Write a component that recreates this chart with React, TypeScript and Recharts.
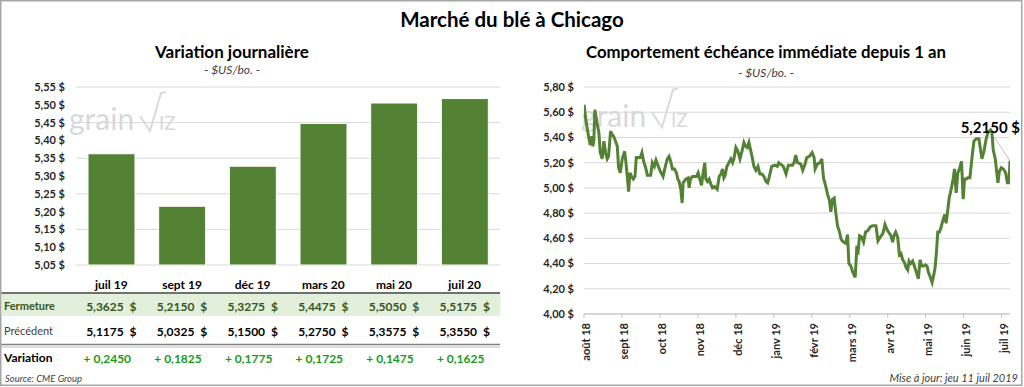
// Marché du blé à Chicago — daily change bars + 12-month nearby line.

import { BarChart, Bar, XAxis, YAxis, CartesianGrid, LineChart, Line, LabelList } from 'recharts';

const FONT = 'Lato, "Open Sans", sans-serif';
const GREEN = '#548235';
const GRID = '#d9d9d9';
const INK = '#262626';

// Left panel: contracts, closes, previous closes, change
const contracts = ['juil 19', 'sept 19', 'déc 19', 'mars 20', 'mai 20', 'juil 20'];
const closes = [5.3625, 5.215, 5.3275, 5.4475, 5.505, 5.5175];
const previous = [5.1175, 5.0325, 5.15, 5.275, 5.3575, 5.355];
const changes = [0.245, 0.1825, 0.1775, 0.1725, 0.1475, 0.1625];
const barTicks = [5.05, 5.1, 5.15, 5.2, 5.25, 5.3, 5.35, 5.4, 5.45, 5.5, 5.55];

// Right panel: nearby contract, [months since 1 Aug 2018, close]
const monthLabels = ['août 18', 'sept 18', 'oct 18', 'nov 18', 'déc 18', 'janv 19', 'févr 19', 'mars 19', 'avr 19', 'mai 19', 'juin 19', 'juil 19'];
const priceTicks = [4.0, 4.2, 4.4, 4.6, 4.8, 5.0, 5.2, 5.4, 5.6, 5.8];
const nearby: [number, number][] = [
  [0, 5.66], [0.057, 5.52], [0.119, 5.41], [0.163, 5.34], [0.207, 5.41], [0.233, 5.33], [0.26, 5.38], [0.286, 5.62], [0.339, 5.52], [0.392, 5.44], [0.427, 5.28], [0.48, 5.23], [0.524, 5.37], [0.568, 5.28], [0.612, 5.23], [0.647, 5.25], [0.7, 5.45], [0.744, 5.42], [0.779, 5.41], [0.832, 5.37], [0.876, 5.33], [0.911, 5.16], [0.955, 5.12],
  [1.008, 5.23], [1.07, 5.29], [1.105, 5.2], [1.14, 5.09], [1.175, 4.97], [1.21, 5.12], [1.254, 5.09], [1.299, 5.07], [1.342, 5.09], [1.378, 5.24], [1.43, 5.24], [1.483, 5.24], [1.527, 5.28], [1.571, 5.21], [1.624, 5.16], [1.668, 5.1], [1.756, 5.1], [1.8, 5.2], [1.853, 5.17], [1.897, 5.22], [1.959, 5.17],
  [2.011, 5.13], [2.082, 5.09], [2.143, 5.17], [2.196, 5.23], [2.24, 5.25], [2.284, 5.21], [2.328, 5.15], [2.381, 5.15], [2.434, 5.12], [2.47, 5.07], [2.505, 5.05], [2.549, 4.99], [2.585, 4.88], [2.61, 5.04], [2.68, 5.07], [2.742, 5.08], [2.768, 5.0], [2.804, 5.07], [2.856, 5.09], [2.909, 5.09], [2.962, 5.09],
  [3.006, 5.12], [3.05, 5.07], [3.094, 5.02], [3.138, 5.12], [3.182, 5.2], [3.208, 5.07], [3.252, 5.05], [3.296, 5.07], [3.341, 5.03], [3.385, 5.0], [3.446, 5.01], [3.508, 4.99], [3.561, 5.09], [3.605, 5.11], [3.649, 5.15], [3.684, 5.08], [3.719, 5.1], [3.763, 5.17], [3.816, 5.2], [3.869, 5.23], [3.913, 5.2], [3.948, 5.23],
  [4.0, 5.32], [4.054, 5.29], [4.107, 5.23], [4.16, 5.29], [4.212, 5.36], [4.256, 5.33], [4.3, 5.32], [4.344, 5.36], [4.388, 5.3], [4.432, 5.24], [4.476, 5.17], [4.529, 5.14], [4.582, 5.17], [4.634, 5.11], [4.687, 5.11], [4.74, 5.09], [4.793, 5.05], [4.837, 5.04], [4.881, 5.09], [4.943, 5.17],
  [5.031, 5.18], [5.092, 5.17], [5.128, 5.2], [5.251, 5.17], [5.321, 5.11], [5.383, 5.18], [5.489, 5.18], [5.533, 5.2], [5.577, 5.26], [5.621, 5.2], [5.709, 5.19], [5.762, 5.14], [5.823, 5.19], [5.867, 5.24], [5.937, 5.25],
  [6.008, 5.28], [6.061, 5.24], [6.087, 5.15], [6.149, 5.19], [6.219, 5.2], [6.263, 5.23], [6.307, 5.08], [6.369, 5.01], [6.413, 4.95], [6.466, 4.9], [6.501, 4.81], [6.545, 4.91], [6.589, 4.92], [6.633, 4.8], [6.677, 4.7], [6.73, 4.65], [6.774, 4.59], [6.835, 4.57], [6.897, 4.56], [6.941, 4.63], [6.976, 4.4],
  [7.029, 4.38], [7.081, 4.33], [7.143, 4.29], [7.187, 4.54], [7.213, 4.47], [7.258, 4.62], [7.311, 4.61], [7.363, 4.57], [7.416, 4.65], [7.469, 4.66], [7.539, 4.69], [7.601, 4.7], [7.689, 4.7], [7.742, 4.58], [7.804, 4.61], [7.874, 4.64], [7.927, 4.71], [7.98, 4.67],
  [8.042, 4.64], [8.085, 4.62], [8.13, 4.57], [8.165, 4.62], [8.209, 4.65], [8.262, 4.61], [8.306, 4.47], [8.349, 4.48], [8.393, 4.43], [8.437, 4.41], [8.481, 4.37], [8.525, 4.35], [8.561, 4.42], [8.605, 4.4], [8.657, 4.42], [8.701, 4.38], [8.754, 4.33], [8.807, 4.28], [8.851, 4.43], [8.895, 4.38], [8.948, 4.38], [8.992, 4.39],
  [9.036, 4.38], [9.071, 4.33], [9.124, 4.29], [9.168, 4.25], [9.212, 4.31], [9.248, 4.37], [9.283, 4.49], [9.318, 4.65], [9.362, 4.65], [9.406, 4.69], [9.459, 4.75], [9.503, 4.79], [9.538, 4.72], [9.583, 4.83], [9.618, 4.92], [9.671, 4.99], [9.723, 5.07], [9.758, 5.15], [9.802, 4.96], [9.846, 5.12], [9.89, 5.15], [9.943, 5.21], [9.987, 4.91],
  [10.022, 5.07], [10.066, 5.07], [10.11, 5.08], [10.163, 5.08], [10.216, 5.23], [10.269, 5.37], [10.331, 5.39], [10.401, 5.39], [10.445, 5.3], [10.48, 5.23], [10.533, 5.29], [10.586, 5.38], [10.639, 5.44], [10.709, 5.46], [10.744, 5.44], [10.779, 5.3], [10.832, 5.23], [10.868, 5.13], [10.903, 5.04], [10.938, 5.13], [10.991, 5.16],
  [11.044, 5.15], [11.106, 5.12], [11.15, 5.04], [11.194, 5.04], [11.22, 5.215],
];

const fmtAxis = (v: number) => `${v.toFixed(2).replace('.', ',')} $`;
const fmt4 = (v: number) => v.toFixed(4).replace('.', ',');

// left plot geometry (table columns line up with the bar categories)
const L_PLOT_LEFT = 76;
const L_PLOT_RIGHT = 500;
const colX = (i: number) => L_PLOT_LEFT + ((L_PLOT_RIGHT - L_PLOT_LEFT) / contracts.length) * (i + 0.5);

function ContractTick({ x, y, payload }: any) {
  return (
    <text x={x} y={y + 16} textAnchor="middle" fontSize={12} fontWeight={700} fill="#000">
      {payload.value}
    </text>
  );
}

function MonthTick({ x, y, payload }: any) {
  return (
    <text
      x={x}
      y={y + 2}
      transform={`rotate(-90 ${x} ${y + 2})`}
      textAnchor="end"
      dy="0.55em"
      fontSize={11}
      fontWeight={700}
      fill={INK}
    >
      {monthLabels[payload.value]}
    </text>
  );
}

function LastLabel({ x, y, value, index }: any) {
  if (index !== nearby.length - 1) return null;
  return (
    <g>
      <line x1={x - 16} y1={y - 24} x2={x} y2={y} stroke="#bfbfbf" strokeWidth={1} />
      <text x={x + 10} y={y - 28} textAnchor="end" fontSize={15} fontWeight={700} fill="#000">
        {`${fmt4(value)} $`}
      </text>
    </g>
  );
}

function Watermark({ dx, dy }: { dx: number; dy: number }) {
  return (
    <g transform={`translate(${dx} ${dy})`} fill="#d9d9d9">
      <text x={69} y={130} fontSize={30}>grain</text>
      <path d="M140,116 L150,131 L161,93 L166,92" fill="none" stroke="#d9d9d9" strokeWidth={2} />
      <text x={159} y={130} fontSize={19}>IZ</text>
    </g>
  );
}

export default function App() {
  const barData = contracts.map((c, i) => ({ c, v: closes[i] }));
  const lineData = nearby.map(([m, v]) => ({ m, v }));
  const monthTicks = monthLabels.map((_, i) => i);
  const tickStyle = { fontSize: 11, fontWeight: 700, fill: INK };

  return (
    <div
      style={{
        position: 'fixed',
        left: 0,
        top: 0,
        width: 1024,
        height: 387,
        background: '#fff',
        fontFamily: FONT,
        overflow: 'hidden',
      }}
    >
      <svg width={1024} height={387} style={{ position: 'absolute', left: 0, top: 0 }}>
        <rect x={0.75} y={0.75} width={1021} height={384.5} fill="none" stroke="#a6a6a6" strokeWidth={1.5} />
        <text x={512} y={27} textAnchor="middle" fontSize={20.5} fontWeight={700} fill="#000">
          Marché du blé à Chicago
        </text>

        {/* left headings */}
        <text x={232} y={58} textAnchor="middle" fontSize={17} fontWeight={700} fill="#000">
          Variation journalière
        </text>
        <text x={232} y={74} textAnchor="middle" fontSize={12} fontStyle="italic" fill="#404040">
          - $US/bo. -
        </text>

        {/* right headings */}
        <text x={766} y={58} textAnchor="middle" fontSize={16.8} fontWeight={700} fill="#000">
          Comportement échéance immédiate depuis 1 an
        </text>
        <text x={766} y={77} textAnchor="middle" fontSize={12} fontStyle="italic" fill="#404040">
          - $US/bo. -
        </text>

        <Watermark dx={0} dy={0} />
        <Watermark dx={512} dy={-3.5} />

        {/* quote table under the bars */}
        <rect x={1.5} y={294} width={499} height={22} fill="#e2efda" />
        <line x1={1.5} x2={500} y1={293} y2={293} stroke="#404040" strokeWidth={1.6} />
        <line x1={1.5} x2={500} y1={344.5} y2={344.5} stroke="#808080" strokeWidth={1.5} />
        <line x1={1.5} x2={500} y1={347} y2={347} stroke="#bfbfbf" strokeWidth={1} />

        <text x={4} y={310} fontSize={11} fontWeight={700} fill="#375623">Fermeture</text>
        <text x={4} y={335} fontSize={11} fill="#404040">Précédent</text>
        <text x={4} y={362} fontSize={12} fontWeight={700} fill="#000">Variation</text>
        {contracts.map((c, i) => (
          <g key={c}>
            <text x={colX(i)} y={310.5} textAnchor="middle" fontSize={12} fontWeight={700} fill="#375623">
              {`${fmt4(closes[i])}\u00a0\u00a0$`}
            </text>
            <text x={colX(i)} y={335.5} textAnchor="middle" fontSize={12} fontWeight={700} fill="#000">
              {`${fmt4(previous[i])}\u00a0\u00a0$`}
            </text>
            <text x={colX(i) - 4} y={362.5} textAnchor="middle" fontSize={12} fontWeight={700} fill="#1a9a1a">
              {`+ ${fmt4(changes[i])}`}
            </text>
          </g>
        ))}

        <text x={5} y={382} fontSize={9.5} fontStyle="italic" fill="#404040">Source: CME Group</text>
        <text x={1018} y={382} textAnchor="end" fontSize={11} fontStyle="italic" fill="#404040">
          Mise à jour: jeu 11 juil 2019
        </text>
      </svg>

      <div style={{ position: 'absolute', left: 0, top: 0 }}>
        <BarChart
          width={512}
          height={300}
          data={barData}
          margin={{ top: 87, right: 512 - L_PLOT_RIGHT, bottom: 5, left: 0 }}
          barSize={47}
        >
          <CartesianGrid vertical={false} stroke={GRID} />
          <XAxis dataKey="c" axisLine={false} tickLine={false} height={30} interval={0} tick={<ContractTick />} />
          <YAxis
            domain={[5.05, 5.55]}
            ticks={barTicks}
            width={L_PLOT_LEFT}
            axisLine={false}
            tickLine={false}
            tickSize={0}
            tickMargin={11}
            tick={tickStyle}
            tickFormatter={fmtAxis}
            allowDataOverflow
          />
          <Bar dataKey="v" fill={GREEN} stroke="#ffffff" strokeWidth={1} isAnimationActive={false} />
        </BarChart>
      </div>

      <div style={{ position: 'absolute', left: 512, top: 0 }}>
        <LineChart width={512} height={372} data={lineData} margin={{ top: 87, right: 14, bottom: 8, left: 0 }}>
          <CartesianGrid vertical={false} stroke={GRID} />
          <XAxis
            type="number"
            dataKey="m"
            domain={[0, 11.22]}
            ticks={monthTicks}
            interval={0}
            height={50}
            tickSize={4}
            tickMargin={3}
            stroke="#bfbfbf"
            tick={<MonthTick />}
            allowDataOverflow
          />
          <YAxis
            domain={[4, 5.8]}
            ticks={priceTicks}
            width={72}
            axisLine={false}
            tickLine={false}
            tickSize={0}
            tickMargin={10}
            tick={tickStyle}
            tickFormatter={fmtAxis}
            allowDataOverflow
          />
          <Line
            type="linear"
            dataKey="v"
            stroke={GREEN}
            strokeWidth={3}
            dot={false}
            activeDot={false}
            isAnimationActive={false}
          >
            <LabelList dataKey="v" content={<LastLabel />} />
          </Line>
        </LineChart>
      </div>
    </div>
  );
}
